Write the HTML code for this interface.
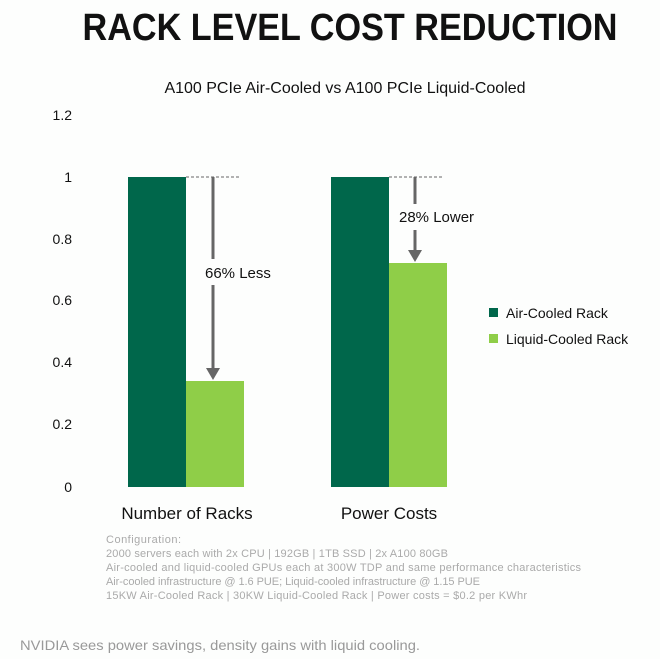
<!DOCTYPE html>
<html><head><style>
body{margin:0;background:#fff;}
</style></head><body>
<svg width="660" height="659" xmlns="http://www.w3.org/2000/svg" font-family="Liberation Sans, DejaVu Sans, sans-serif">
<rect width="660" height="659" fill="#fdfefd"/>
<text x="350" y="40" text-anchor="middle" font-size="38" font-weight="bold" fill="#111" textLength="535" lengthAdjust="spacingAndGlyphs">RACK LEVEL COST REDUCTION</text>
<text x="345" y="93" text-anchor="middle" font-size="16" fill="#111">A100 PCIe Air-Cooled vs A100 PCIe Liquid-Cooled</text>
<g font-size="14" fill="#111" text-anchor="end">
<text x="72" y="120">1.2</text><text x="72" y="182">1</text><text x="72" y="244">0.8</text>
<text x="72" y="305">0.6</text><text x="72" y="367">0.4</text><text x="72" y="429">0.2</text><text x="72" y="492">0</text>
</g>
<rect x="128" y="177" width="58" height="310" fill="#00674b"/>
<rect x="186" y="381" width="58" height="106" fill="#8fce48"/>
<rect x="331" y="177" width="58" height="310" fill="#00674b"/>
<rect x="389" y="263" width="58" height="224" fill="#8fce48"/>
<g stroke="#666" stroke-width="1" stroke-dasharray="3,2"><line x1="186" y1="177" x2="241" y2="177"/><line x1="389" y1="177" x2="443" y2="177"/></g>
<g stroke="#666" stroke-width="3">
<line x1="213" y1="177" x2="213" y2="259"/><line x1="213" y1="285" x2="213" y2="368"/>
<line x1="415" y1="177" x2="415" y2="204"/><line x1="415" y1="230" x2="415" y2="251"/>
</g>
<polygon points="206,368 220,368 213,380" fill="#666"/>
<polygon points="408,250 422,250 415,262" fill="#666"/>
<text x="205" y="278" font-size="15" fill="#111">66% Less</text>
<text x="399" y="222" font-size="15" fill="#111">28% Lower</text>
<rect x="489" y="308" width="9" height="9" fill="#00674b"/>
<rect x="489" y="334" width="9" height="9" fill="#8fce48"/>
<text x="506" y="318" font-size="14" fill="#111">Air-Cooled Rack</text>
<text x="506" y="344" font-size="14" fill="#111">Liquid-Cooled Rack</text>
<text x="187" y="519" text-anchor="middle" font-size="17" fill="#111">Number of Racks</text>
<text x="389" y="519" text-anchor="middle" font-size="17" fill="#111">Power Costs</text>
<g font-size="11" fill="#aaa" lengthAdjust="spacingAndGlyphs">
<text x="106" y="543" textLength="75">Configuration:</text>
<text x="106" y="557" textLength="342">2000 servers each with 2x CPU | 192GB | 1TB SSD | 2x A100 80GB</text>
<text x="106" y="571" textLength="475">Air-cooled and liquid-cooled GPUs each at 300W TDP and same performance characteristics</text>
<text x="106" y="585" textLength="374">Air-cooled infrastructure @ 1.6 PUE; Liquid-cooled infrastructure @ 1.15 PUE</text>
<text x="106" y="599" textLength="421">15KW Air-Cooled Rack | 30KW Liquid-Cooled Rack | Power costs = $0.2 per KWhr</text>
</g>
<text x="20" y="650" font-size="14" fill="#999" textLength="400" lengthAdjust="spacingAndGlyphs">NVIDIA sees power savings, density gains with liquid cooling.</text>
</svg>
</body></html>
